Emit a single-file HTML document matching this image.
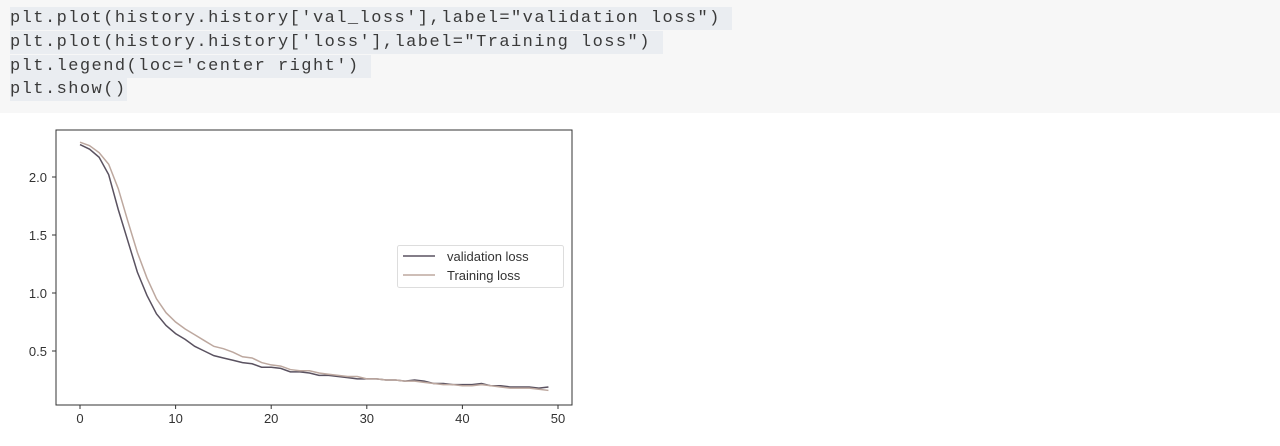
<!DOCTYPE html>
<html><head><meta charset="utf-8"><style>
body{margin:0;width:1280px;height:446px;background:#fff;overflow:hidden;font-family:"Liberation Sans",sans-serif;}
#code{position:absolute;left:0;top:0;width:1280px;height:113px;background:#f7f7f7;}
.ln{position:absolute;left:10px;font-family:"Liberation Mono",monospace;font-size:17px;color:#3a3a3a;background:#eaedf1;line-height:23px;letter-spacing:1.45px;white-space:pre;}
</style></head><body>
<div id="code">
<div class="ln" style="top:7px">plt.plot(history.history['val_loss'],label="validation loss") </div>
<div class="ln" style="top:31px">plt.plot(history.history['loss'],label="Training loss") </div>
<div class="ln" style="top:55px">plt.legend(loc='center right') </div>
<div class="ln" style="top:78px">plt.show()</div>
</div>
<svg id="chart" width="1280" height="446" style="position:absolute;left:0;top:0"></svg>
<script>
const epochs=[...Array(50).keys()];
const valLoss=[2.28,2.24,2.17,2.02,1.72,1.45,1.18,0.98,0.82,0.72,0.65,0.6,0.54,0.5,0.46,0.44,0.42,0.4,0.39,0.36,0.36,0.35,0.32,0.32,0.31,0.29,0.29,0.28,0.27,0.26,0.26,0.26,0.25,0.25,0.24,0.25,0.24,0.22,0.22,0.21,0.21,0.21,0.22,0.2,0.2,0.19,0.19,0.19,0.18,0.19];
const trainLoss=[2.3,2.27,2.21,2.11,1.9,1.62,1.35,1.13,0.95,0.83,0.75,0.69,0.64,0.59,0.54,0.52,0.49,0.45,0.44,0.4,0.38,0.37,0.34,0.33,0.33,0.31,0.3,0.29,0.28,0.28,0.26,0.26,0.25,0.25,0.24,0.24,0.23,0.22,0.21,0.21,0.2,0.2,0.21,0.2,0.19,0.18,0.18,0.18,0.17,0.16];
const xTicks=[0,10,20,30,40,50];
const yTicks=[0.5,1.0,1.5,2.0];
const NS="http://www.w3.org/2000/svg";
const svg=document.getElementById('chart');
const L=56,R=572,T=130,B=405;
const X=v=>80+v*(558-80)/50;
const Y=v=>351-(v-0.5)*116;
function mk(t,a,p){const e=document.createElementNS(NS,t);for(const k in a)e.setAttribute(k,a[k]);(p||svg).appendChild(e);return e;}
const frame=mk('rect',{x:L,y:T,width:R-L,height:B-T,fill:'none',stroke:'#333','stroke-width':1});


xTicks.forEach(v=>{
 const tk=mk('line',{x1:X(v),x2:X(v),y1:B,y2:B+4,stroke:'#333'});
 
 
 const t=mk('text',{x:X(v),y:B+18,'text-anchor':'middle','font-size':13,fill:'#333'});t.textContent=v;
 
 
});
yTicks.forEach(v=>{
 const tk=mk('line',{x1:L-4,x2:L,y1:Y(v),y2:Y(v),stroke:'#333'});
 
 
 const t=mk('text',{x:L-9,y:Y(v)+5,'text-anchor':'end','font-size':13,fill:'#333'});t.textContent=v.toFixed(1);
 
 
});
function series(d,c,n){
 const p=mk('polyline',{points:d.map((v,i)=>X(epochs[i])+','+Y(v)).join(' '),fill:'none',stroke:c,'stroke-width':1.5});
 
 
}
series(valLoss,'#5a5260','validation-loss-line');
series(trainLoss,'#bda89f','training-loss-line');
const lg=mk('g',{});


mk('rect',{x:397.5,y:245.5,width:166,height:42,rx:2,fill:'#fff',stroke:'#ddd'},lg);
mk('line',{x1:403,x2:435,y1:256,y2:256,stroke:'#5a5260','stroke-width':1.5},lg);
mk('line',{x1:403,x2:435,y1:275,y2:275,stroke:'#bda89f','stroke-width':1.5},lg);
const a=mk('text',{x:447,y:261,'font-size':13,fill:'#333'},lg);a.textContent='validation loss';


const b=mk('text',{x:447,y:280,'font-size':13,fill:'#333'},lg);b.textContent='Training loss';


</script>
</body></html>
